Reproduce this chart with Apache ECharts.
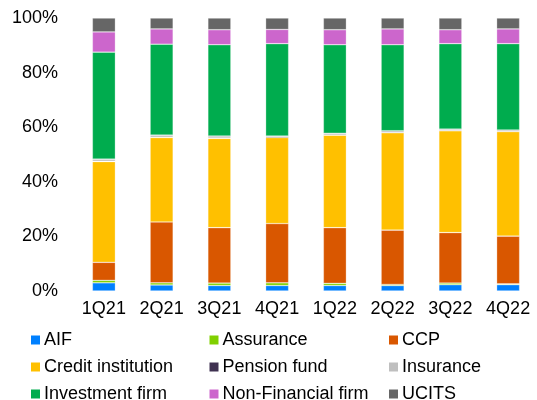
<!DOCTYPE html>
<html>
<head>
<meta charset="utf-8">
<script src="https://cdn.jsdelivr.net/npm/echarts@6/dist/echarts.min.js"></script>
<style>
  html, body { margin: 0; padding: 0; background: #fff; }
  #chart { width: 537px; height: 400px; }
</style>
</head>
<body>
<div id="chart"></div>
<script>
// Quarterly share (%) of each counterparty type
const quarters = ['1Q21', '2Q21', '3Q21', '4Q21', '1Q22', '2Q22', '3Q22', '4Q22'];
const yTicks = [0, 20, 40, 60, 80, 100];

const aif          = [3.0, 2.2, 2.0, 2.0, 2.0, 2.0, 2.3, 2.3];
const assurance    = [0.9, 0.8, 0.9, 1.0, 0.8, 0.4, 0.6, 0.3];
const ccp          = [6.6, 22.3, 20.3, 21.7, 20.4, 19.9, 18.5, 17.5];
const creditInst   = [36.9, 30.9, 32.7, 31.5, 33.9, 35.7, 37.3, 38.3];
const pensionFund  = [0.1, 0.1, 0.1, 0.4, 0.0, 0.0, 0.0, 0.0];
const insurance    = [0.8, 0.8, 0.8, 0.2, 0.7, 0.7, 0.6, 0.6];
const investFirm   = [39.2, 33.3, 33.4, 33.8, 32.4, 31.5, 31.3, 31.6];
const nonFinancial = [7.4, 5.6, 5.5, 5.2, 5.5, 5.8, 5.1, 5.4];
const ucits        = [5.1, 4.0, 4.3, 4.2, 4.3, 4.0, 4.3, 4.0];

const seriesDefs = [
  { name: 'AIF', data: aif, color: '#0080FF' },
  { name: 'Assurance', data: assurance, color: '#80D000' },
  { name: 'CCP', data: ccp, color: '#D95700' },
  { name: 'Credit institution', data: creditInst, color: '#FFC000' },
  { name: 'Pension fund', data: pensionFund, color: '#3F3151' },
  { name: 'Insurance', data: insurance, color: '#BFBFBF' },
  { name: 'Investment firm', data: investFirm, color: '#00AC4E' },
  { name: 'Non-Financial firm', data: nonFinancial, color: '#CC66CC' },
  { name: 'UCITS', data: ucits, color: '#666666' }
];

const FONT = 'Liberation Sans, Arial, sans-serif';

// Legend laid out as a 3x3 table, one legend entry per cell
const legendCols = [31, 209.5, 389];
const legendRows = [331, 358, 385];

function legendCell(name, index) {
  return {
    left: legendCols[index % 3],
    top: legendRows[Math.floor(index / 3)],
    padding: 0,
    itemWidth: 9,
    itemHeight: 9,
    icon: 'rect',
    selectedMode: false,
    data: [name],
    itemStyle: { borderWidth: 0 },
    textStyle: { fontFamily: FONT, fontSize: 18, color: '#000', lineHeight: 18, padding: [0, 0, 0, -1] }
  };
}

const chart = echarts.init(document.getElementById('chart'), null, { renderer: 'canvas' });

chart.setOption({
  animation: false,
  backgroundColor: '#fff',
  color: seriesDefs.map(s => s.color),
  grid: { left: 75, top: 18, width: 468.6, height: 273, containLabel: false },
  legend: seriesDefs.map((s, i) => legendCell(s.name, i)),
  xAxis: {
    type: 'category',
    data: quarters,
    axisLine: { show: false },
    axisTick: { show: false },
    axisLabel: { fontFamily: FONT, fontSize: 18, color: '#000', margin: 9 }
  },
  yAxis: {
    type: 'value',
    min: yTicks[0],
    max: yTicks[yTicks.length - 1],
    interval: yTicks[1] - yTicks[0],
    splitLine: { show: false },
    axisLine: { show: false },
    axisTick: { show: false },
    axisLabel: {
      fontFamily: FONT, fontSize: 18, color: '#000', margin: 17,
      formatter: v => v + '%'
    }
  },
  series: seriesDefs.map(s => ({
    name: s.name,
    type: 'bar',
    stack: 'total',
    barWidth: 23,
    data: s.data,
    itemStyle: { color: s.color, borderColor: 'rgba(255,255,255,0.45)', borderWidth: 0.6 }
  }))
});
</script>
</body>
</html>
